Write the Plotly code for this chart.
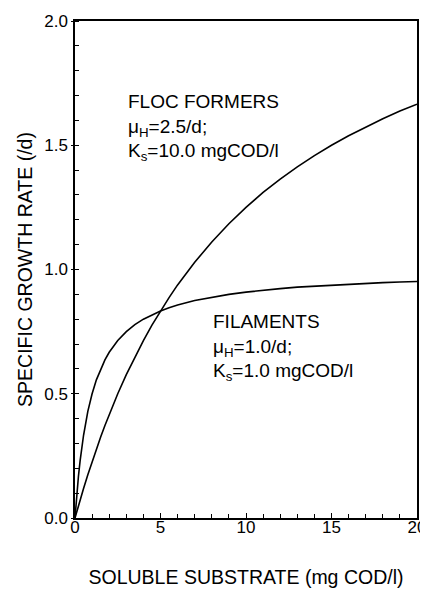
import plotly.graph_objects as go

# Soluble substrate (mg COD/l) and specific growth rates (/d)
substrate = [0, 0.1, 0.2, 0.3, 0.4, 0.5, 0.75, 1, 1.25, 1.5, 1.75, 2, 2.5, 3, 3.5, 4, 4.5, 5,
             5.5, 6, 7, 8, 9, 10, 11, 12, 13, 14, 15, 16, 17, 18, 19, 20]
floc_formers = [0, 0.025, 0.049, 0.073, 0.096, 0.119, 0.174, 0.227, 0.278, 0.326, 0.372, 0.417,
                0.500, 0.577, 0.648, 0.714, 0.776, 0.833, 0.887, 0.938, 1.029, 1.111, 1.184,
                1.250, 1.310, 1.364, 1.413, 1.458, 1.500, 1.538, 1.574, 1.607, 1.638, 1.665]
filaments = [0, 0.091, 0.167, 0.231, 0.286, 0.333, 0.429, 0.500, 0.556, 0.600, 0.636, 0.667,
             0.714, 0.750, 0.778, 0.800, 0.818, 0.833, 0.846, 0.857, 0.875, 0.889, 0.900,
             0.909, 0.917, 0.923, 0.929, 0.933, 0.938, 0.941, 0.944, 0.947, 0.950, 0.952]

x_ticks = [0, 5, 10, 15, 20]
y_ticks = [0.0, 0.5, 1.0, 1.5, 2.0]

font = "Liberation Sans, Arial, Helvetica, sans-serif"

fig = go.Figure()
for ys in (floc_formers, filaments):
    fig.add_trace(go.Scatter(x=substrate, y=ys, mode="lines",
                             line=dict(color="black", width=1.6, shape="linear"),
                             showlegend=False, hoverinfo="skip"))

fig.add_annotation(x=3.0, y=1.57, xanchor="left", yanchor="middle", showarrow=False, align="left",
                   text="FLOC FORMERS<br>\u03bc<sub>H</sub>=2.5/d;<br>K<sub>s</sub>=10.0 mgCOD/l",
                   font=dict(family=font, size=19, color="black"))
fig.add_annotation(x=7.95, y=0.685, xanchor="left", yanchor="middle", showarrow=False, align="left",
                   text="FILAMENTS<br>\u03bc<sub>H</sub>=1.0/d;<br>K<sub>s</sub>=1.0 mgCOD/l",
                   font=dict(family=font, size=19, color="black"))

fig.update_layout(
    width=420, height=581,
    margin=dict(l=67, r=11, t=13, b=71, autoexpand=False),
    paper_bgcolor="white", plot_bgcolor="white",
    font=dict(family=font, color="black"),
)
fig.update_xaxes(range=[0, 20], tickvals=x_ticks, ticktext=[str(v) for v in x_ticks],
                 showline=True, linecolor="black", linewidth=1.5, mirror=True,
                 ticks="inside", ticklen=5, tickcolor="black", ticklabelstandoff=-7,
                 minor=dict(dtick=1, ticks="inside", ticklen=4, tickcolor="black"),
                 showgrid=False, zeroline=False, tickfont=dict(size=17), automargin=False,
                 title=dict(text="SOLUBLE SUBSTRATE (mg COD/l)", font=dict(size=19.5), standoff=34))
fig.update_yaxes(range=[0, 2.0], tickvals=y_ticks, ticktext=["%.1f" % v for v in y_ticks],
                 showline=True, linecolor="black", linewidth=1.5, mirror=True,
                 ticks="outside", ticklen=2, tickcolor="black",
                 minor=dict(dtick=0.1, ticks="inside", ticklen=4, tickcolor="black"),
                 showgrid=False, zeroline=False, tickfont=dict(size=17), automargin=False,
                 title=dict(text="SPECIFIC GROWTH RATE (/d)", font=dict(size=19.5), standoff=6))

fig.write_html("out.html")
